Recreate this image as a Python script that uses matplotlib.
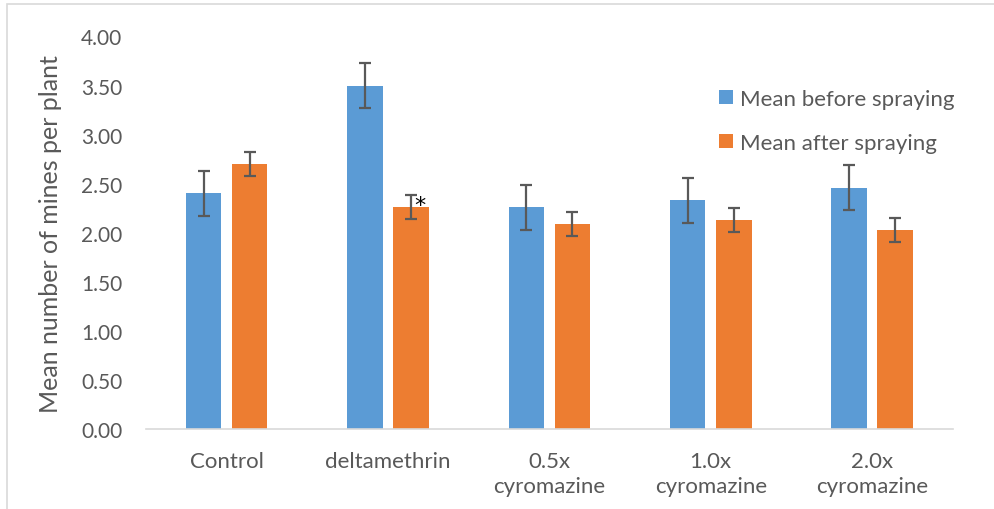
import numpy as np
import matplotlib.pyplot as plt
from matplotlib.patches import Rectangle

categories = ["Control", "deltamethrin", "0.5x\ncyromazine", "1.0x\ncyromazine", "2.0x\ncyromazine"]
before_mean = [2.40, 3.50, 2.26, 2.33, 2.46]
before_err = [0.23, 0.23, 0.23, 0.23, 0.23]
after_mean = [2.70, 2.26, 2.09, 2.13, 2.03]
after_err = [0.12, 0.12, 0.12, 0.12, 0.12]
yticks = [0.0, 0.5, 1.0, 1.5, 2.0, 2.5, 3.0, 3.5, 4.0]

blue = "#5B9BD5"
orange = "#ED7D31"
text_col = "#595959"

plt.rcParams['font.family'] = ['Lato', 'DejaVu Sans']

fig = plt.figure(figsize=(9.95, 5.1), dpi=100)
ax = fig.add_axes([0.1467, 0.1569, 0.9575 - 0.1467, 0.9265 - 0.1569])

x = np.arange(len(categories))
w = 0.22
off = 0.143
ekw = dict(ecolor=text_col, elinewidth=1.6, capsize=4.5, capthick=1.6)
ax.bar(x - off, before_mean, w, color=blue, yerr=before_err, error_kw=ekw,
       label="Mean before spraying", zorder=2)
ax.bar(x + off, after_mean, w, color=orange, yerr=after_err, error_kw=ekw,
       label="Mean after spraying", zorder=2)

# significance mark on deltamethrin after spraying
ax.annotate("*", xy=(1 + off, after_mean[1] + after_err[1]), xytext=(2, -11),
            textcoords="offset points", fontsize=16, color="black", family="DejaVu Sans")

ax.set_xlim(-0.5, len(categories) - 0.5)
ax.set_ylim(0, 4.0)
ax.set_yticks(yticks)
ax.set_yticklabels([f"{v:.2f}" for v in yticks])
ax.set_xticks(x)
ax.set_xticklabels(categories, linespacing=1.3)
ax.tick_params(axis='both', length=0, colors=text_col)
ax.tick_params(axis='x', pad=16, labelsize=16)
ax.tick_params(axis='y', pad=17, labelsize=15)
for s in ["top", "right", "left"]:
    ax.spines[s].set_visible(False)
ax.spines["bottom"].set_color("#D9D9D9")
ax.spines["bottom"].set_linewidth(1.2)
ax.set_ylabel("Mean number of mines per plant", fontsize=18, color=text_col, labelpad=14)

ax.legend(loc="upper left", bbox_to_anchor=(0.7226, 0.824), bbox_transform=fig.transFigure,
          frameon=False, fontsize=16, handlelength=0.63, handleheight=0.63,
          handletextpad=0.32, labelspacing=1.08, borderpad=0, borderaxespad=0,
          labelcolor=text_col)

fig.patches.append(Rectangle((7 / 995, -0.05), 1.1, 0.05 + (505 / 510), transform=fig.transFigure,
                             fill=False, edgecolor="#D9D9D9", linewidth=1.2))

fig.savefig("out.png", dpi=100)
